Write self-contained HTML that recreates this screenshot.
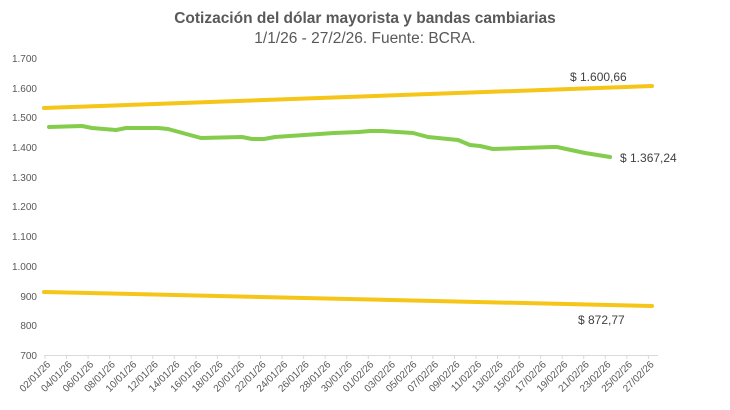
<!DOCTYPE html>
<html><head><meta charset="utf-8"><style>
body{margin:0;background:#fff;width:730px;height:405px;overflow:hidden;font-family:"Liberation Sans",sans-serif}
</style></head><body>
<svg width="730" height="405" xmlns="http://www.w3.org/2000/svg" font-family="Liberation Sans, sans-serif">
<text x="365" y="23" text-anchor="middle" font-size="15.5" font-weight="bold" fill="#595959">Cotización del dólar mayorista y bandas cambiarias</text>
<text x="365" y="43" text-anchor="middle" font-size="15.5" fill="#595959">1/1/26 - 27/2/26. Fuente: BCRA.</text>
<g font-size="10" fill="#595959" text-anchor="end">
<text x="37" y="62">1.700</text><text x="37" y="92">1.600</text><text x="37" y="121">1.500</text>
<text x="37" y="151">1.400</text><text x="37" y="181">1.300</text><text x="37" y="210">1.200</text>
<text x="37" y="240">1.100</text><text x="37" y="270">1.000</text><text x="37" y="300">900</text>
<text x="37" y="329">800</text><text x="37" y="359">700</text>
</g>
<line x1="44" y1="355.5" x2="658" y2="355.5" stroke="#d9d9d9" stroke-width="1"/>
<g id="ticks" stroke="#d9d9d9"></g>
<g id="labs" font-size="10" fill="#595959"></g>
<polyline points="44,108 652,86" stroke="#f5c518" stroke-width="4" fill="none" stroke-linecap="round"/>
<polyline points="44,292 652,306" stroke="#f5c518" stroke-width="4" fill="none" stroke-linecap="round"/>
<polyline points="49,127 82,126 92,128 116,130 126,128 158,128 168,129 201,138 242,137 252,139 264,139 275,137 334,133 359,132 370,131 382,131 413,133 428,137 458,140 470,145 480,146 493,149 552,147 557,147 585,153 610,157" stroke="#84cc4c" stroke-width="4" fill="none" stroke-linejoin="round" stroke-linecap="round"/>
<text x="570" y="81" font-size="12" fill="#404040">$ 1.600,66</text>
<text x="620" y="162" font-size="12" fill="#404040">$ 1.367,24</text>
<text x="578" y="324" font-size="12" fill="#404040">$ 872,77</text>
</svg>
<script>
const labs=["02/01/26","04/01/26","06/01/26","08/01/26","10/01/26","12/01/26","14/01/26","16/01/26","18/01/26","20/01/26","22/01/26","24/01/26","26/01/26","28/01/26","30/01/26","01/02/26","03/02/26","05/02/26","07/02/26","09/02/26","11/02/26","13/02/26","15/02/26","17/02/26","19/02/26","21/02/26","23/02/26","25/02/26","27/02/26"];
const ns="http://www.w3.org/2000/svg";
const t=document.getElementById('ticks'),g=document.getElementById('labs');
labs.forEach((l,i)=>{const x=45+i*21.55;
const ln=document.createElementNS(ns,'line');ln.setAttribute('x1',x);ln.setAttribute('x2',x);ln.setAttribute('y1',355);ln.setAttribute('y2',359);t.appendChild(ln);
const tx=document.createElementNS(ns,'text');tx.setAttribute('x',x+6);tx.setAttribute('y',365);tx.setAttribute('text-anchor','end');tx.setAttribute('transform',`rotate(-45 ${x+6} 365)`);tx.textContent=l;g.appendChild(tx);});
</script>
</body></html>
